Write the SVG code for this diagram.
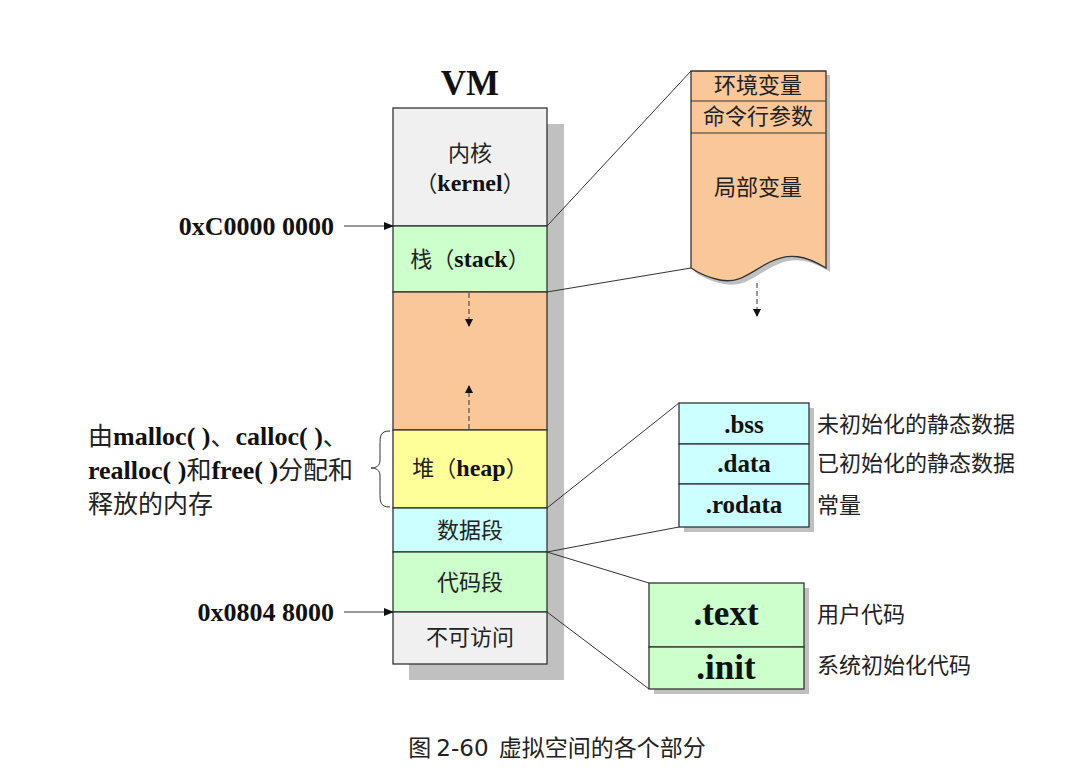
<svg xmlns="http://www.w3.org/2000/svg" width="1087" height="775" viewBox="0 0 1087 775">
<style>
.cn{font-family:"Noto Sans CJK SC","Liberation Sans",sans-serif;font-size:22px;fill:#222;}
.b{font-family:"Liberation Serif","Noto Sans CJK SC",serif;font-weight:bold;fill:#111;}
.bl{font-size:24px;}
.box{stroke:#333;stroke-width:1.3;}
.ln{stroke:#333;stroke-width:1;fill:none;}
.sh{fill:#c0c0c0;}
</style>
<defs>
<marker id="ah" markerWidth="10" markerHeight="8" refX="9" refY="4" orient="auto" markerUnits="userSpaceOnUse">
<path d="M0,0 L10,4 L0,8 Z" fill="#111"/>
</marker>
<marker id="ahs" markerWidth="8" markerHeight="8" refX="7" refY="4" orient="auto" markerUnits="userSpaceOnUse">
<path d="M0,0 L8,4 L0,8 Z" fill="#111"/>
</marker>
</defs>
<rect width="1087" height="775" fill="#fff"/>

<text x="470" y="95" text-anchor="middle" class="b" font-size="35">VM</text>

<g id="vm">
<rect class="sh" x="409" y="124" width="155" height="556"/>
<g id="kernel"><rect class="box" x="393" y="108" width="154" height="118" fill="#f0f0f0"/>
<text x="470" y="161" text-anchor="middle" class="cn">内核</text>
<text x="470" y="191" text-anchor="middle" class="cn">（<tspan class="b bl">kernel</tspan>）</text></g>
<g id="stack"><rect class="box" x="393" y="226" width="154" height="66" fill="#ccffcc"/>
<text x="470" y="267" text-anchor="middle" class="cn">栈（<tspan class="b bl">stack</tspan>）</text></g>
<g id="gap"><rect class="box" x="393" y="292" width="154" height="138" fill="#fac898"/></g>
<g id="heap"><rect class="box" x="393" y="430" width="154" height="78" fill="#ffff99"/>
<text x="470" y="476" text-anchor="middle" class="cn">堆（<tspan class="b bl">heap</tspan>）</text></g>
<g id="data"><rect class="box" x="393" y="508" width="154" height="44" fill="#ccffff"/>
<text x="470" y="538" text-anchor="middle" class="cn">数据段</text></g>
<g id="code"><rect class="box" x="393" y="552" width="154" height="60" fill="#ccffcc"/>
<text x="470" y="590" text-anchor="middle" class="cn">代码段</text></g>
<g id="noaccess"><rect class="box" x="393" y="612" width="154" height="52" fill="#f0f0f0"/>
<text x="470" y="645" text-anchor="middle" class="cn">不可访问</text></g>
</g>

<g id="addr1"><text x="334" y="235" text-anchor="end" class="b" font-size="26">0xC0000 0000</text></g>
<g id="addr2"><text x="334" y="621" text-anchor="end" class="b" font-size="26">0x0804 8000</text></g>

<g id="heapnote">
<text x="88" y="445" class="cn" style="font-size:25px">由<tspan class="b" style="font-size:26px">malloc( )</tspan>、<tspan class="b" style="font-size:26px">calloc( )</tspan>、</text>
<text x="88" y="479" class="cn" style="font-size:25px"><tspan class="b" style="font-size:26px">realloc( )</tspan>和<tspan class="b" style="font-size:26px">free( )</tspan>分配和</text>
<text x="88" y="513" class="cn" style="font-size:25px">释放的内存</text>
</g>

<g id="stackdetail">
<path class="sh" d="M695,75 H830 V272 C810,260 794,256 774,266 C754,276 744,288 724,284 C709,281 701,276 695,272 Z"/>
<path class="box" fill="#fac898" d="M691,71 H826 V268 C806,256 790,252 770,262 C750,272 740,284 720,280 C705,277 697,272 691,268 Z"/>
<line class="ln" x1="691" y1="101" x2="826" y2="101"/>
<line class="ln" x1="691" y1="133" x2="826" y2="133"/>
<text x="758" y="93" text-anchor="middle" class="cn">环境变量</text>
<text x="758" y="124" text-anchor="middle" class="cn">命令行参数</text>
<text x="758" y="195" text-anchor="middle" class="cn">局部变量</text>
</g>

<g id="datadetail">
<rect class="sh" x="684" y="408" width="130" height="124"/>
<rect class="box" x="679" y="403" width="130" height="41" fill="#ccffff"/>
<rect class="box" x="679" y="444" width="130" height="40" fill="#ccffff"/>
<rect class="box" x="679" y="484" width="130" height="43" fill="#ccffff"/>
<text x="744" y="433" text-anchor="middle" class="b" font-size="25">.bss</text>
<text x="744" y="472" text-anchor="middle" class="b" font-size="25">.data</text>
<text x="744" y="513" text-anchor="middle" class="b" font-size="25">.rodata</text>
<text x="817" y="432" class="cn">未初始化的静态数据</text>
<text x="817" y="471" class="cn">已初始化的静态数据</text>
<text x="817" y="513" class="cn">常量</text>
</g>

<g id="codedetail">
<rect class="sh" x="654" y="588" width="155" height="106"/>
<rect class="box" x="649" y="583" width="155" height="64" fill="#ccffcc"/>
<rect class="box" x="649" y="647" width="155" height="42" fill="#ccffcc"/>
<text x="726" y="625" text-anchor="middle" class="b" font-size="35">.text</text>
<text x="726" y="679" text-anchor="middle" class="b" font-size="35">.init</text>
<text x="817" y="622" class="cn">用户代码</text>
<text x="817" y="673" class="cn">系统初始化代码</text>
</g>

<g id="connectors">
<line class="ln" x1="344" y1="226" x2="393" y2="226" marker-end="url(#ah)"/>
<line class="ln" x1="344" y1="612" x2="393" y2="612" marker-end="url(#ah)"/>
<line class="ln" x1="469" y1="293" x2="469" y2="326" stroke-dasharray="5,3" marker-end="url(#ahs)"/>
<line class="ln" x1="469" y1="429" x2="469" y2="386" stroke-dasharray="5,3" marker-end="url(#ahs)"/>
<line class="ln" x1="757" y1="283" x2="757" y2="316" stroke-dasharray="5,3" marker-end="url(#ahs)"/>
<line class="ln" x1="547" y1="226" x2="691" y2="71"/>
<line class="ln" x1="547" y1="292" x2="691" y2="268"/>
<line class="ln" x1="547" y1="508" x2="679" y2="403"/>
<line class="ln" x1="547" y1="552" x2="679" y2="527"/>
<line class="ln" x1="547" y1="552" x2="649" y2="583"/>
<line class="ln" x1="547" y1="612" x2="649" y2="689"/>
<path class="ln" d="M390,431 C380,431 380,436 380,446 V460 C380,466 376,468 371,468 C376,468 380,470 380,476 V492 C380,502 380,507 390,507"/>
</g>

<text x="557" y="756" text-anchor="middle" class="cn" style="font-size:23px" xml:space="preserve">图 <tspan font-family="DejaVu Sans, sans-serif">2-60</tspan>  虚拟空间的各个部分</text>
</svg>
